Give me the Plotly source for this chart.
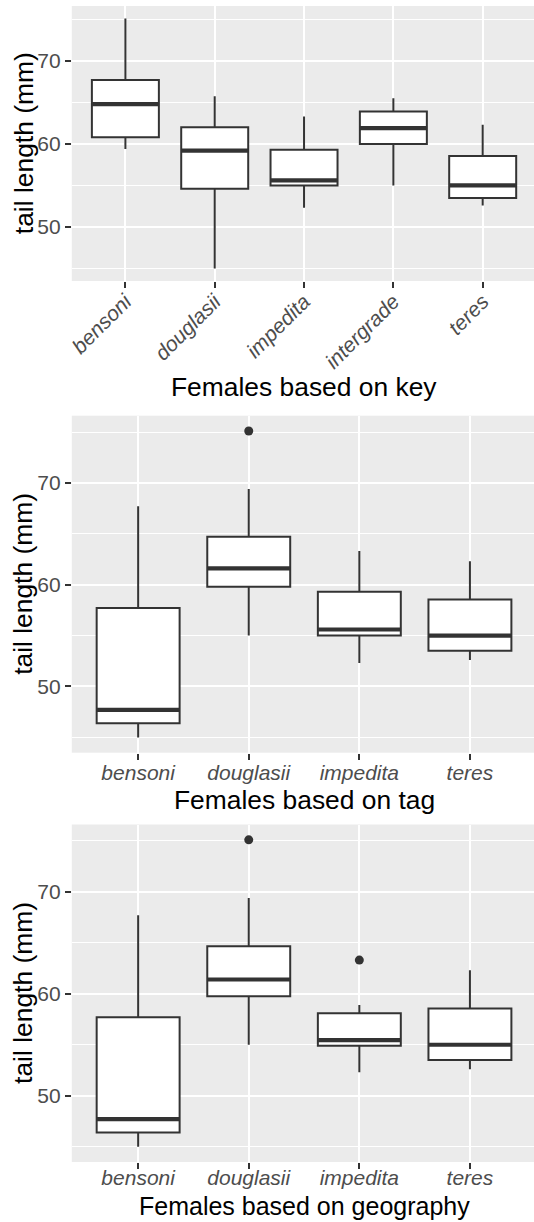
import plotly.graph_objects as go

# ---- data: female tail length (mm) summaries by grouping scheme ----
key_species = ["bensoni", "douglasii", "impedita", "intergrade", "teres"]
key_low = [59.4, 45.0, 52.3, 55.0, 52.6]
key_q1 = [60.8, 54.6, 55.0, 60.0, 53.5]
key_med = [64.8, 59.2, 55.6, 61.9, 55.0]
key_q3 = [67.7, 62.0, 59.3, 63.9, 58.55]
key_high = [75.1, 65.75, 63.3, 65.5, 62.3]
key_outliers = [[], [], [], [], []]

tag_species = ["bensoni", "douglasii", "impedita", "teres"]
tag_low = [45.0, 55.0, 52.3, 52.6]
tag_q1 = [46.4, 59.8, 55.0, 53.5]
tag_med = [47.7, 61.6, 55.6, 55.0]
tag_q3 = [57.7, 64.7, 59.3, 58.55]
tag_high = [67.7, 69.4, 63.3, 62.3]
tag_outliers = [[], [75.1], [], []]

geo_species = ["bensoni", "douglasii", "impedita", "teres"]
geo_low = [45.0, 55.0, 52.3, 52.6]
geo_q1 = [46.4, 59.75, 54.9, 53.5]
geo_med = [47.7, 61.4, 55.45, 55.0]
geo_q3 = [57.7, 64.65, 58.1, 58.55]
geo_high = [67.7, 69.4, 58.9, 62.3]
geo_outliers = [[], [75.1], [63.3], []]

y_ticks = [50, 60, 70]
y_title = "tail length (mm)"

panels = [
    dict(cats=key_species, low=key_low, q1=key_q1, med=key_med, q3=key_q3,
         high=key_high, out=key_outliers, title="Females based on key",
         top=6, bottom=281, title_base=397, angle=-45, standoff=-7,
         title_size=26.4),
    dict(cats=tag_species, low=tag_low, q1=tag_q1, med=tag_med, q3=tag_q3,
         high=tag_high, out=tag_outliers, title="Females based on tag",
         top=415.7, bottom=752.7, title_base=810, angle=0, standoff=-5,
         title_size=26.4),
    dict(cats=geo_species, low=geo_low, q1=geo_q1, med=geo_med, q3=geo_q3,
         high=geo_high, out=geo_outliers, title="Females based on geography",
         top=824.5, bottom=1162, title_base=1215, angle=0, standoff=-9,
         title_size=25),
]

# ---- page geometry ----
W, H = 534, 1222
PANEL_LEFT = 68.3
PANEL_FULL_W = 468.0          # panel width before the right edge is cut off
VISIBLE_W = W - PANEL_LEFT
FONT = "Liberation Sans, Arial, Helvetica, sans-serif"
DARK = "#333333"
TICK_GREY = "#4D4D4D"
BOX_W = 0.75

fig = go.Figure()
annotations = []
layout = dict(
    width=W, height=H, margin=dict(l=0, r=0, t=0, b=0),
    paper_bgcolor="white", plot_bgcolor="#EBEBEB",
    showlegend=False, font=dict(family=FONT),
)

all_vals = []
for p in panels:
    all_vals += p["low"] + p["high"] + [v for o in p["out"] for v in o]

for k, p in enumerate(panels):
    n = len(p["cats"])
    xs = list(range(n))
    sfx = "" if k == 0 else str(k + 1)
    xa, ya = "x" + sfx, "y" + sfx

    fig.add_trace(go.Box(
        x=xs, q1=p["q1"], median=p["med"], q3=p["q3"],
        lowerfence=p["low"], upperfence=p["high"],
        width=BOX_W, whiskerwidth=0, boxpoints=False,
        fillcolor="white", line=dict(color=DARK, width=2.0),
        xaxis=xa, yaxis=ya, hoverinfo="skip",
    ))

    # heavier median bars
    mx, my = [], []
    for i, m in enumerate(p["med"]):
        mx += [i - BOX_W / 2, i + BOX_W / 2, None]
        my += [m, m, None]
    fig.add_trace(go.Scatter(
        x=mx, y=my, mode="lines", line=dict(color=DARK, width=4.2),
        xaxis=xa, yaxis=ya, hoverinfo="skip",
    ))

    ox, oy = [], []
    for i, o in enumerate(p["out"]):
        for v in o:
            ox.append(i)
            oy.append(v)
    if ox:
        fig.add_trace(go.Scatter(
            x=ox, y=oy, mode="markers",
            marker=dict(color=DARK, size=9),
            xaxis=xa, yaxis=ya, hoverinfo="skip",
        ))

    lo, hi = min(all_vals), max(all_vals)
    pad = 0.05 * (hi - lo)
    x_end = -0.6 + (n + 0.2) * VISIBLE_W / PANEL_FULL_W

    y0 = 1 - p["bottom"] / H
    y1 = 1 - p["top"] / H

    layout["xaxis" + sfx] = dict(
        domain=[PANEL_LEFT / W, 1], range=[-0.6, x_end], anchor=ya,
        tickmode="array", tickvals=xs, ticktext=p["cats"],
        tickangle=p["angle"], ticklabelstandoff=p["standoff"],
        tickfont=dict(family=FONT, size=21, color=TICK_GREY, style="italic"),
        ticks="outside", ticklen=6, tickwidth=2, tickcolor=DARK,
        showgrid=True, gridcolor="white", gridwidth=2,
        zeroline=False, showline=False, fixedrange=True,
    )
    layout["yaxis" + sfx] = dict(
        domain=[y0, y1], range=[lo - pad, hi + pad], anchor=xa,
        tickmode="array", tickvals=y_ticks,
        tickfont=dict(family=FONT, size=21, color=TICK_GREY),
        ticks="outside", ticklen=6, tickwidth=2, tickcolor=DARK,
        showgrid=True, gridcolor="white", gridwidth=2,
        minor=dict(tick0=45, dtick=10, showgrid=True, gridcolor="white",
                   gridwidth=1.1, ticks=""),
        zeroline=False, showline=False, fixedrange=True,
    )

    # axis titles
    annotations.append(dict(
        text=p["title"], xref="paper", yref="paper",
        x=(PANEL_LEFT + PANEL_FULL_W / 2) / W,
        y=1 - (p["title_base"] + 6.5) / H,
        xanchor="center", yanchor="bottom", showarrow=False,
        font=dict(family=FONT, size=p["title_size"], color="black"),
    ))
    annotations.append(dict(
        text=y_title, xref="paper", yref="paper",
        x=19.8 / W, y=1 - (p["top"] + p["bottom"]) / 2 / H,
        xanchor="center", yanchor="middle", textangle=-90, showarrow=False,
        font=dict(family=FONT, size=26.4, color="black"),
    ))

layout["annotations"] = annotations
fig.update_layout(**layout)
fig.write_html("out.html")
